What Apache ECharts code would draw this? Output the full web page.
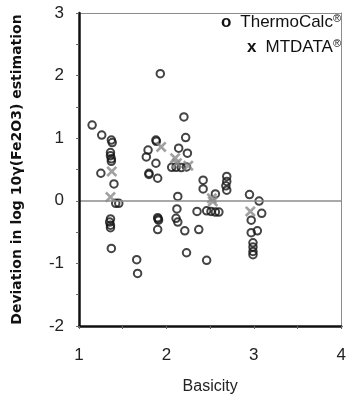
<!DOCTYPE html>
<html>
<head>
<meta charset="utf-8">
<script src="https://cdn.jsdelivr.net/npm/echarts@6/dist/echarts.min.js"></script>
<style>
  html, body { margin: 0; padding: 0; background: #fff; }
  #chart { width: 349px; height: 400px; }
</style>
</head>
<body>
<div id="chart"></div>
<script>
// Deviation of predicted log10 γ(Fe2O3) against slag basicity
const thermoCalc = [
  [1.15, 1.21], [1.26, 1.05], [1.37, 0.97], [1.38, 0.93], [1.36, 0.77],
  [1.36, 0.72], [1.37, 0.67], [1.37, 0.63], [1.25, 0.44], [1.40, 0.27],
  [1.42, -0.04], [1.455, -0.04], [1.36, -0.29], [1.35, -0.34], [1.36, -0.39],
  [1.36, -0.43], [1.37, -0.76], [1.66, -0.94], [1.67, -1.16],
  [1.93, 2.03], [2.20, 1.34], [2.22, 1.01], [1.88, 0.97], [1.885, 0.95],
  [1.79, 0.81], [1.77, 0.70], [2.14, 0.84], [2.24, 0.76], [1.88, 0.60],
  [2.06, 0.535], [2.11, 0.535], [2.17, 0.53], [2.23, 0.54],
  [1.80, 0.44], [1.80, 0.42], [1.90, 0.36], [2.13, 0.07], [2.12, -0.13],
  [2.35, -0.17], [1.90, -0.27], [1.91, -0.31], [1.905, -0.29],
  [2.11, -0.28], [2.13, -0.34], [1.90, -0.46], [2.21, -0.48], [2.37, -0.46],
  [2.23, -0.83],
  [2.42, 0.33], [2.42, 0.19], [2.69, 0.39], [2.69, 0.31], [2.68, 0.24],
  [2.69, 0.17], [2.56, 0.11], [2.46, -0.16], [2.51, -0.17], [2.56, -0.18],
  [2.60, -0.18], [2.46, -0.95],
  [2.95, 0.10], [3.06, -0.005], [3.09, -0.20], [2.97, -0.31], [2.97, -0.51],
  [3.04, -0.48], [2.99, -0.67], [2.99, -0.74], [2.99, -0.81], [2.99, -0.86]
];
const mtdata = [
  [1.375, 0.47], [1.36, 0.06], [1.94, 0.86], [2.10, 0.68], [2.12, 0.60],
  [2.25, 0.56], [2.52, 0.04], [2.53, -0.01], [2.96, -0.17]
];
const xTicks = [1, 2, 3, 4];
const yTicks = [-2, -1, 0, 1, 2, 3];

const crossPath = 'path://M0,1.7L1.7,0L5,3.3L8.3,0L10,1.7L6.7,5L10,8.3L8.3,10L5,6.7L1.7,10L0,8.3L3.3,5Z';
const font = 'Liberation Sans, Arial, sans-serif';

const legendRich = {
  m: { fontFamily: font, fontSize: 17, fontWeight: 'bold', color: '#111', padding: [0, 9, 0, 0] },
  t: { fontFamily: font, fontSize: 17, color: '#111' },
  r: { fontFamily: font, fontSize: 11, color: '#111', verticalAlign: 'top', padding: [0, 0, 7, 0] }
};
function legendItem(name, mark, top) {
  return {
    data: [name], right: 8, top: top, icon: 'none', itemWidth: 0, itemHeight: 0,
    padding: 0, selectedMode: false,
    formatter: n => '{m|' + mark + '}{t|' + n + '}{r|®}',
    textStyle: { rich: legendRich }
  };
}

const frameAxis = {
  axisLine: { show: true, onZero: false, lineStyle: { color: '#8c8c8c', width: 1 } },
  axisTick: { show: false }, axisLabel: { show: false }, splitLine: { show: false }
};

const chart = echarts.init(document.getElementById('chart'), null, { renderer: 'canvas' });
chart.setOption({
  animation: false,
  backgroundColor: '#fff',
  grid: { left: 79, right: 4, top: 13, bottom: 72 },
  legend: [legendItem('ThermoCalc', 'o', 13), legendItem('MTDATA', 'x', 38)],
  xAxis: [{
    type: 'value', min: xTicks[0], max: xTicks[xTicks.length - 1], interval: 1,
    name: 'Basicity', nameLocation: 'middle', nameGap: 53,
    nameTextStyle: { fontFamily: font, fontSize: 16, color: '#222' },
    axisLine: { show: true, onZero: false, lineStyle: { color: '#111', width: 2.5 } },
    axisTick: { show: true, length: 3, lineStyle: { color: '#666', width: 1 } },
    minorTick: { show: true, splitNumber: 2, length: 3, lineStyle: { color: '#666', width: 1 } },
    splitLine: { show: false },
    axisLabel: { fontFamily: font, fontSize: 17, color: '#222', margin: 21 },
    z: 5
  }, Object.assign({ type: 'value', position: 'top', min: 1, max: 4 }, frameAxis)],
  yAxis: [{
    type: 'value', min: yTicks[0], max: yTicks[yTicks.length - 1], interval: 1,
    name: 'Deviation in log 10γ(Fe2O3) estimation', nameLocation: 'middle', nameGap: 55,
    nameTextStyle: { fontFamily: 'DejaVu Sans, sans-serif', fontSize: 14, fontWeight: 'bold', color: '#111' },
    axisLine: { show: true, onZero: false, lineStyle: { color: '#111', width: 2.5 } },
    axisTick: { show: true, length: 3, lineStyle: { color: '#666', width: 1 } },
    minorTick: { show: true, splitNumber: 2, length: 3, lineStyle: { color: '#666', width: 1 } },
    splitLine: { show: false },
    axisLabel: { fontFamily: font, fontSize: 17, color: '#222', margin: 15 },
    z: 5
  }, Object.assign({ type: 'value', position: 'right', min: -2, max: 3 }, frameAxis)],
  series: [
    {
      name: 'ThermoCalc', type: 'scatter', data: thermoCalc,
      symbol: 'circle', symbolSize: 7.5,
      itemStyle: { color: 'rgba(255,255,255,0)', borderColor: '#151515', borderWidth: 2 },
      markLine: {
        silent: true, symbol: 'none', label: { show: false },
        lineStyle: { color: '#8c8c8c', width: 1.5, type: 'solid' },
        data: [{ yAxis: 0 }]
      },
      z: 3
    },
    {
      name: 'MTDATA', type: 'scatter', data: mtdata,
      symbol: crossPath, symbolSize: 11,
      itemStyle: { color: '#8a8a8a' },
      z: 4
    }
  ]
});
</script>
</body>
</html>
